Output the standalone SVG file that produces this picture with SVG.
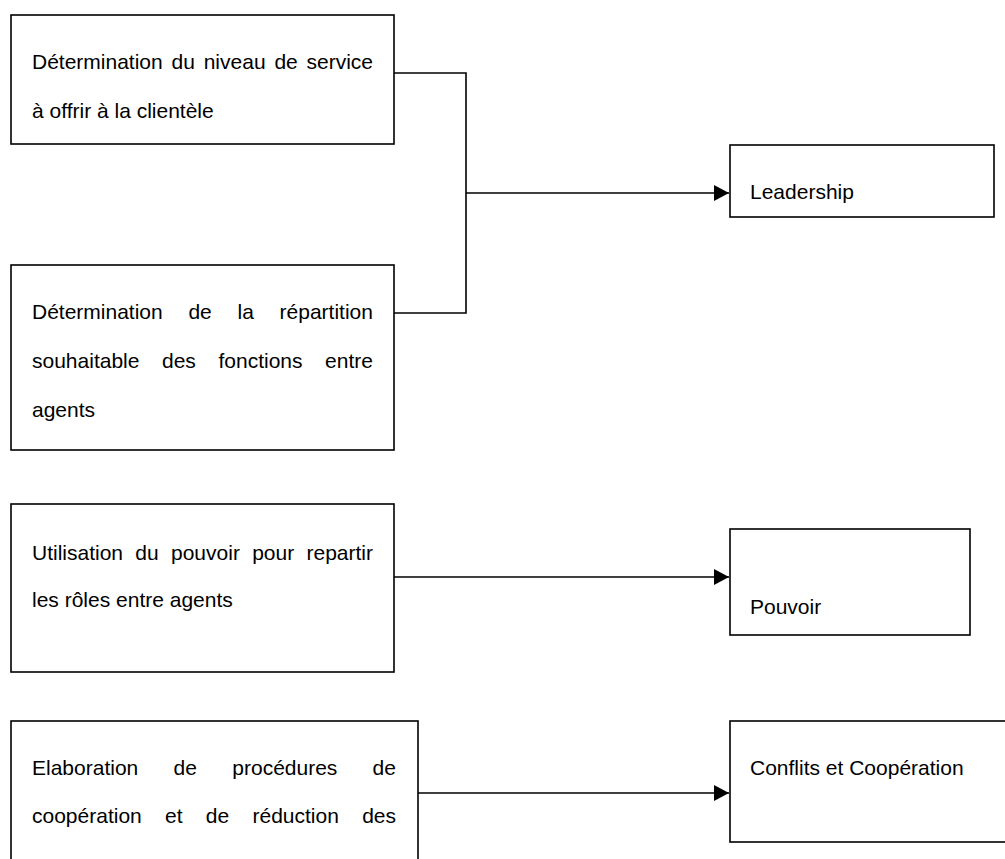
<svg xmlns="http://www.w3.org/2000/svg" width="1005" height="859" viewBox="0 0 1005 859">
<style>
.box{fill:#fff;stroke:#000;stroke-width:1.6}
.conn{fill:none;stroke:#000;stroke-width:1.6}
text{font-family:"Liberation Sans",Arial,sans-serif;font-size:21px;fill:#000}
</style>
<defs>
<marker id="arr" markerUnits="userSpaceOnUse" markerWidth="15" markerHeight="16" refX="15" refY="8" orient="auto">
<path d="M0,0 L15,8 L0,16 z" fill="#000"/>
</marker>
</defs>
<rect x="0" y="0" width="1005" height="859" fill="#fff"/>
<g id="connectors">
<path class="conn" d="M394,73 H466 V313 H394"/>
<path class="conn" d="M466,193 H729" marker-end="url(#arr)"/>
<path class="conn" d="M394,577 H729" marker-end="url(#arr)"/>
<path class="conn" d="M418,793 H729" marker-end="url(#arr)"/>
</g>
<g id="n1">
<rect class="box" x="11" y="15" width="383" height="129"/>
<text y="69"><tspan x="32">Détermination</tspan><tspan x="171.5">du</tspan><tspan x="203.7">niveau</tspan><tspan x="274.4">de</tspan><tspan x="306.5">service</tspan></text>
<text x="32" y="118">à offrir à la clientèle</text>
</g>
<g id="n2">
<rect class="box" x="11" y="265" width="383" height="185"/>
<text y="319"><tspan x="32">Détermination</tspan><tspan x="188.4">de</tspan><tspan x="237.5">la</tspan><tspan x="279.6">répartition</tspan></text>
<text y="368"><tspan x="32">souhaitable</tspan><tspan x="162">des</tspan><tspan x="218.5">fonctions</tspan><tspan x="325.1">entre</tspan></text>
<text x="32" y="417">agents</text>
</g>
<g id="n3">
<rect class="box" x="730" y="145" width="264" height="72"/>
<text x="750" y="199">Leadership</text>
</g>
<g id="n4">
<rect class="box" x="11" y="504" width="383" height="168"/>
<text y="560"><tspan x="32">Utilisation</tspan><tspan x="135.3">du</tspan><tspan x="171">pouvoir</tspan><tspan x="252.2">pour</tspan><tspan x="306.5">repartir</tspan></text>
<text x="32" y="607">les rôles entre agents</text>
</g>
<g id="n5">
<rect class="box" x="730" y="529" width="240" height="106"/>
<text x="750" y="614">Pouvoir</text>
</g>
<g id="n6">
<rect class="box" x="11" y="721" width="407" height="170"/>
<text y="775"><tspan x="32">Elaboration</tspan><tspan x="173.6">de</tspan><tspan x="232.3">procédures</tspan><tspan x="372.6">de</tspan></text>
<text y="823"><tspan x="32">coopération</tspan><tspan x="165">et</tspan><tspan x="205.8">de</tspan><tspan x="252.5">réduction</tspan><tspan x="362.2">des</tspan></text>
</g>
<g id="n7">
<rect class="box" x="730" y="721" width="300" height="121"/>
<text x="750" y="775">Conflits et Coopération</text>
</g>
</svg>
